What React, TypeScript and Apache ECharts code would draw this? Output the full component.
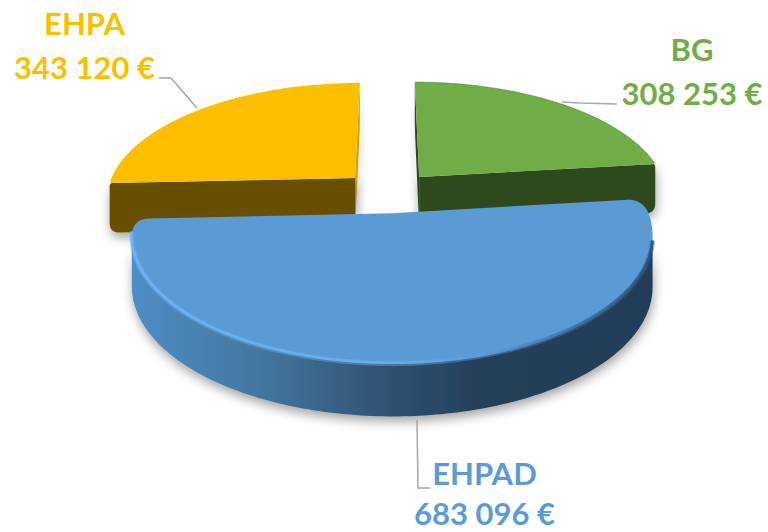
import React, { useEffect, useRef } from "react";
import * as echarts from "echarts";

const categories = ["BG", "EHPAD", "EHPA"];
const values = [308253, 683096, 343120];
const colors = ["#70ad47", "#5b9bd5", "#fcbf00"];

const X0 = 388.5, Y0 = 193, RX = 249, RY = 116, K = 0.17, DEPTH = 50;
const EXPLODE = [0.19, 0.17, 0.19];
const total = values.reduce((a, b) => a + b, 0);

type P = [number, number];
const rad = (d: number) => (d * Math.PI) / 180;
function project(gx: number, gy: number, z: number): P {
  const s = 1 / (1 - K * gy);
  return [X0 + RX * gx * s, Y0 + RY * gy * s + z * DEPTH * (1 + 0.07 * gy)];
}
function angles(i: number): [number, number] {
  let a = 0;
  for (let j = 0; j < i; j++) a += values[j];
  return [(a / total) * 360, ((a + values[i]) / total) * 360];
}
function rim(a0: number, a1: number, ox: number, oy: number, z: number): P[] {
  const n = Math.max(2, Math.ceil(Math.abs(a1 - a0)));
  const out: P[] = [];
  for (let k = 0; k <= n; k++) {
    const t = rad(a0 + ((a1 - a0) * k) / n);
    out.push(project(ox + Math.sin(t), oy - Math.cos(t), z));
  }
  return out;
}
function walk(pts: P[], i: number, dir: number, r: number): { p: P; idx: number } {
  let left = r;
  let j = i;
  const n = pts.length;
  for (let step = 0; step < n; step++) {
    const nx = (j + dir + n) % n;
    const d = Math.hypot(pts[nx][0] - pts[j][0], pts[nx][1] - pts[j][1]);
    if (d >= left) {
      const t = left / d;
      return { p: [pts[j][0] + (pts[nx][0] - pts[j][0]) * t, pts[j][1] + (pts[nx][1] - pts[j][1]) * t], idx: j };
    }
    left -= d;
    j = nx;
  }
  return { p: pts[i], idx: i };
}
function roundCorners(pts: P[], corners: [number, number][]): P[] {
  let res = pts.slice();
  const sorted = corners.slice().sort((a, b) => b[0] - a[0]);
  for (const [i, r] of sorted) {
    const back = walk(res, i, -1, r);
    const fwd = walk(res, i, 1, r);
    const c = res[i];
    const curve: P[] = [];
    for (let k = 0; k <= 10; k++) {
      const t = k / 10;
      curve.push([
        (1 - t) * (1 - t) * back.p[0] + 2 * t * (1 - t) * c[0] + t * t * fwd.p[0],
        (1 - t) * (1 - t) * back.p[1] + 2 * t * (1 - t) * c[1] + t * t * fwd.p[1],
      ]);
    }
    res = [...res.slice(0, back.idx + 1), ...curve, ...res.slice(fwd.idx + 1)];
  }
  return res;
}
const poly = (points: P[], style: any, z2: number) => ({
  type: "polygon",
  shape: { points },
  style,
  z2,
  silent: true,
});

const money = (v: number) => String(v).replace(/\B(?=(\d{3})+$)/g, " ") + " €";

const labelAnchor: Record<string, { x: number; y: number; gap: number }> = {
  BG: { x: 692, y: 49, gap: 44 },
  EHPAD: { x: 484.5, y: 473, gap: 40 },
  EHPA: { x: 84.5, y: 23, gap: 44 },
};
const leaders: Record<string, P[]> = {
  BG: [[562, 102], [580, 103], [617, 104]],
  EHPAD: [[417, 420], [418, 488], [430, 488]],
  EHPA: [[159, 78], [171, 78], [197, 108]],
};
const shadow = { shadowBlur: 11, shadowColor: "rgba(0,0,0,0.36)", shadowOffsetX: 1, shadowOffsetY: 5 };

function renderItem(params: any, api: any) {
  const i = params.dataIndex;
  const name = categories[i];
  const v = api.value(0);
  const [a0, a1] = angles(i);
  const mid = rad((a0 + a1) / 2);
  const ox = EXPLODE[i] * Math.sin(mid);
  const oy = -EXPLODE[i] * Math.cos(mid);
  const isMain = name === "EHPAD";
  const base = isMain ? 20 : 1;
  const children: any[] = [];
  const apexTop = project(ox, oy, 0);
  const apexBot = project(ox, oy, 1);
  const topRim = rim(a0, a1, ox, oy, 0);

  if (isMain) {
    const sideTop = rim(100, 260, ox, oy, 0);
    const sideBot = rim(100, 260, ox, oy, 1);
    children.push(
      poly([...sideTop, ...sideBot.reverse()], {
        ...shadow,
        fill: new echarts.graphic.LinearGradient(0, 0, 1, 0, [
          { offset: 0, color: "#4f8dc6" },
          { offset: 0.25, color: "#44769f" },
          { offset: 0.5, color: "#2f5070" },
          { offset: 0.68, color: "#243f58" },
          { offset: 1, color: "#233e56" },
        ]),
      }, base)
    );
  } else {
    const faces: [number, string][] =
      name === "EHPA"
        ? [[a1, "#d8a200"], [a0, "#684f00"]]
        : [[a0, "#2f4a1c"], [a1, "#2f4a1c"]];
    faces.forEach(([ang, fill], k) => {
      const t = rad(ang);
      const tipT = project(ox + Math.sin(t), oy - Math.cos(t), 0);
      const tipB = project(ox + Math.sin(t), oy - Math.cos(t), 1);
      const pts = roundCorners([apexTop, tipT, tipB, apexBot], [[2, 10], [1, 3]]);
      children.push(poly(pts, { ...shadow, fill }, base + k));
    });
  }

  const topPts = roundCorners([apexTop, ...topRim], isMain
    ? [[1, 15], [topRim.length, 15]]
    : [[name === "EHPA" ? 1 : topRim.length, 3]]);
  children.push(poly(topPts, { fill: colors[i] }, base + 3));

  if (isMain) {
    const gradient = (alpha: number) =>
      new echarts.graphic.LinearGradient(0, 0, 1, 0, [
        { offset: 0, color: `rgba(108,178,244,${alpha})` },
        { offset: 0.5, color: `rgba(104,172,233,${alpha})` },
        { offset: 0.68, color: `rgba(91,155,213,${alpha})` },
        { offset: 0.86, color: `rgba(63,114,159,${alpha})` },
        { offset: 1, color: `rgba(46,85,117,${alpha})` },
      ]);
    [[5, 0.45, 0.02], [2.5, 1, 0.01]].forEach(([lineWidth, alpha, z], k) => {
      children.push({
        type: "polyline",
        shape: { points: rim(102, 262, ox, oy, z) },
        style: { fill: "none", lineWidth, stroke: gradient(alpha) },
        z2: base + 4 + k,
        silent: true,
      });
    });
  }
  if (name === "BG") {
    children.push({
      type: "polyline",
      shape: { points: topRim },
      style: { fill: "none", lineWidth: 0.7, stroke: "rgba(70,100,50,0.6)" },
      z2: base + 4,
      silent: true,
    });
  }

  children.push({
    type: "polyline",
    shape: { points: leaders[name] },
    style: { fill: "none", stroke: "#a6a6a6", lineWidth: 1.5 },
    z2: 40,
    silent: true,
  });
  const anchor = labelAnchor[name];
  const font = "bold 31px Lato";
  children.push({
    type: "text",
    z2: 41,
    style: { text: name, x: anchor.x, y: anchor.y, fill: colors[i], font, textAlign: "center", textVerticalAlign: "middle" },
  });
  children.push({
    type: "text",
    z2: 41,
    style: { text: money(v), x: anchor.x, y: anchor.y + anchor.gap, fill: colors[i], font, textAlign: "center", textVerticalAlign: "middle" },
  });
  return { type: "group", children };
}

export default function App() {
  const ref = useRef<HTMLDivElement>(null);
  useEffect(() => {
    const chart = echarts.init(ref.current!, undefined, { renderer: "svg" });
    chart.setOption({
      animation: false,
      backgroundColor: "#ffffff",
      series: [
        {
          type: "custom",
          coordinateSystem: "none",
          silent: true,
          clip: false,
          data: values.map((v) => [v]),
          renderItem,
        },
      ],
    });
    return () => chart.dispose();
  }, []);
  return <div ref={ref} style={{ position: "fixed", left: 0, top: 0, width: 768, height: 532 }} />;
}
